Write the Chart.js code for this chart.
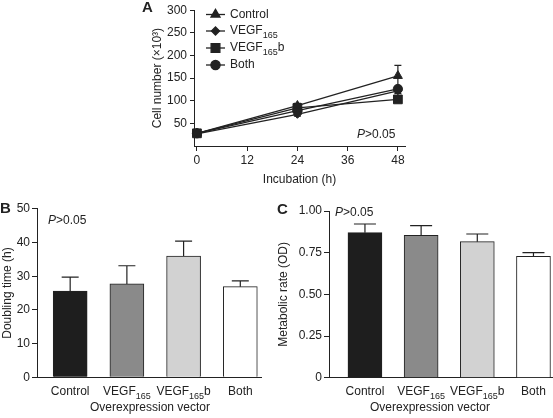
<!DOCTYPE html>
<html>
<head>
<meta charset="utf-8">
<script src="https://cdn.jsdelivr.net/npm/chart.js@4.4.0/dist/chart.umd.min.js"></script>
<style>
  html, body { margin: 0; padding: 0; background: #fff; }
  body { width: 553px; height: 418px; position: relative; overflow: hidden; }
  canvas { position: absolute; }
</style>
</head>
<body>
<canvas id="chartA" width="290" height="200" style="left:130px;top:0px"></canvas>
<canvas id="chartB" width="275" height="223" style="left:0px;top:195px"></canvas>
<canvas id="chartC" width="278" height="223" style="left:275px;top:195px"></canvas>
<script>
const FONT = '"Liberation Sans", Arial, Helvetica, sans-serif';
const INK = '#222';

// Panel A - growth curves
const hours = [0, 24, 48];
const hourTicks = [0, 12, 24, 36, 48];
const cellTicks = [50, 100, 150, 200, 250, 300];
const lineNames = ['Control', 'VEGF165', 'VEGF165b', 'Both'];
const controlCells = [28, 89, 155];
const controlErr = [1, 5, 23];
const vegfCells = [27, 70, 122];
const vegfErr = [1, 4, 6];
const vegfbCells = [28, 84, 103];
const vegfbErr = [1, 5, 5];
const bothCells = [28, 78, 126];
const bothErr = [1, 5, 6];

// Panels B and C - bars
const vectors = ['Control', 'VEGF165', 'VEGF165b', 'Both'];
const doublingTime = [25.6, 27.7, 36.0, 26.9];
const doublingErr = [4.1, 5.4, 4.4, 1.7];
const doublingTicks = [0, 10, 20, 30, 40, 50];
const metabolicRate = [0.87, 0.854, 0.816, 0.728];
const metabolicErr = [0.052, 0.058, 0.046, 0.022];
const metabolicTicks = [0, 0.25, 0.5, 0.75, 1.0];

const barFills = ['#1e1e1e', '#8a8a8a', '#d2d2d2', '#ffffff'];

Chart.defaults.font.family = FONT;
Chart.defaults.color = INK;

// split "VEGF165b" into normal / subscript pieces
function labelParts(label) {
  const m = /^VEGF(\d+)(.*)$/.exec(label);
  return m ? [['VEGF', ''], [m[1], 'sub'], [m[2], '']] : [[label, '']];
}

function richText(ctx, segs, x, y, size, align) {
  const fontFor = k => (k === 'b' ? 'bold ' : '') + (k === 'i' ? 'italic ' : '') +
    (k === 'sub' ? Math.round(size * 0.75) : size) + 'px ' + FONT;
  let w = 0;
  segs.forEach(([t, k]) => { ctx.font = fontFor(k); w += ctx.measureText(t).width; });
  let cx = align === 'center' ? x - w / 2 : align === 'right' ? x - w : x;
  ctx.save();
  ctx.fillStyle = INK;
  ctx.textAlign = 'left';
  ctx.textBaseline = 'middle';
  segs.forEach(([t, k]) => {
    ctx.font = fontFor(k);
    ctx.fillText(t, cx, y + (k === 'sub' ? size * 0.35 : 0));
    cx += ctx.measureText(t).width;
  });
  ctx.restore();
}

function errBar(ctx, x, y1, y2, cap) {
  ctx.beginPath();
  ctx.moveTo(x, y1); ctx.lineTo(x, y2);
  ctx.moveTo(x - cap / 2, y2); ctx.lineTo(x + cap / 2, y2);
  ctx.stroke();
}

// ---------- Panel A ----------
const cellSeries = [controlCells, vegfCells, vegfbCells, bothCells];
const cellErrs = [controlErr, vegfErr, vegfbErr, bothErr];
const markers = [['triangle', 5.2], ['rectRot', 4], ['rect', 6.2], ['circle', 4.6]];

const panelA = {
  id: 'panelA',
  beforeDatasetsDraw(chart) {
    const ctx = chart.ctx, xs = chart.scales.x, ys = chart.scales.y;
    ctx.save();
    ctx.strokeStyle = INK;
    ctx.lineWidth = 1.2;
    cellSeries.forEach((s, i) => {
      s.forEach((v, j) => {
        const e = cellErrs[i][j];
        const x = xs.getPixelForValue(hours[j]);
        errBar(ctx, x, ys.getPixelForValue(v), ys.getPixelForValue(v + e), 7);
        errBar(ctx, x, ys.getPixelForValue(v), ys.getPixelForValue(v - e), 7);
      });
    });
    ctx.restore();
  },
  afterDraw(chart) {
    const ctx = chart.ctx;
    richText(ctx, [['A', 'b']], 12, 8, 15, 'left');
    // legend
    const rows = [14.5, 31, 48, 65];
    lineNames.forEach((name, i) => {
      ctx.save();
      ctx.strokeStyle = INK;
      ctx.fillStyle = INK;
      ctx.lineWidth = 1.3;
      ctx.beginPath();
      ctx.moveTo(76, rows[i]); ctx.lineTo(95, rows[i]);
      ctx.stroke();
      Chart.helpers.drawPoint(ctx, {pointStyle: markers[i][0], radius: markers[i][1], borderWidth: 1}, 85.5, rows[i]);
      ctx.restore();
      richText(ctx, labelParts(name), 100, rows[i], 12, 'left');
    });
    richText(ctx, [['P', 'i'], ['>0.05', '']], 227, 135, 12, 'left');
  }
};

new Chart(document.getElementById('chartA'), {
  type: 'line',
  data: {
    datasets: lineNames.map((name, i) => ({
      label: name,
      data: hours.map((h, j) => ({x: h, y: cellSeries[i][j]})),
      borderColor: INK,
      backgroundColor: INK,
      borderWidth: 1.3,
      tension: 0,
      pointStyle: markers[i][0],
      pointRadius: markers[i][1],
      pointBorderWidth: 1,
      clip: false
    }))
  },
  options: {
    responsive: false,
    animation: false,
    events: [],
    layout: {autoPadding: false, padding: {left: 0, top: 8, right: 15, bottom: 0}},
    plugins: {legend: {display: false}, tooltip: {enabled: false}},
    scales: {
      x: {
        type: 'linear', min: -0.7, max: 49.7,
        afterBuildTicks: s => { s.ticks = hourTicks.map(v => ({value: v})); },
        afterFit: s => { s.height = 54; },
        grid: {drawOnChartArea: false, tickLength: 5, color: INK},
        border: {color: INK, width: 1},
        ticks: {font: {size: 12}, padding: 2, maxRotation: 0, autoSkip: false},
        title: {display: true, text: 'Incubation (h)', font: {size: 12}, padding: {top: 0, bottom: 13}}
      },
      y: {
        type: 'linear', min: 0, max: 300,
        afterBuildTicks: s => { s.ticks = cellTicks.map(v => ({value: v})); },
        afterFit: s => { s.width = 64; },
        grid: {drawOnChartArea: false, tickLength: 4, color: INK},
        border: {color: INK, width: 1},
        ticks: {font: {size: 12}, padding: 3},
        title: {display: true, text: 'Cell number (×10³)', font: {size: 12}, padding: {top: 20, bottom: 0}}
      }
    }
  },
  plugins: [panelA]
});

// ---------- Panels B and C ----------
function makeBarChart(id, vals, errs, yTicks, yMax, yTitle, fmt, g) {
  const extras = {
    id: 'extras' + id,
    afterDatasetsDraw(chart) {
      const ctx = chart.ctx, xs = chart.scales.x, ys = chart.scales.y;
      ctx.save();
      ctx.strokeStyle = INK;
      ctx.lineWidth = 1.2;
      vals.forEach((v, i) => {
        errBar(ctx, xs.getPixelForValue(i), ys.getPixelForValue(v), ys.getPixelForValue(v + errs[i]), g.cap);
      });
      ctx.restore();
    },
    afterDraw(chart) {
      const ctx = chart.ctx, xs = chart.scales.x;
      vectors.forEach((c, i) => richText(ctx, labelParts(c), xs.getPixelForValue(i), g.labelY, 12, 'center'));
      richText(ctx, [['Overexpression vector', '']], g.titleX, g.titleY, 12, 'center');
      richText(ctx, [[g.letter, 'b']], g.letterX, g.letterY, 15, 'left');
      richText(ctx, [['P', 'i'], ['>0.05', '']], g.pX, g.pY, 12, 'left');
    }
  };
  return new Chart(document.getElementById(id), {
    type: 'bar',
    data: {
      datasets: [{
        data: vectors.map((c, i) => ({x: i, y: vals[i]})),
        backgroundColor: barFills,
        borderColor: INK,
        borderWidth: 1,
        barThickness: 34
      }]
    },
    options: {
      responsive: false,
      animation: false,
      events: [],
      layout: {autoPadding: false, padding: {left: 0, top: g.top, right: g.right, bottom: 0}},
      plugins: {legend: {display: false}, tooltip: {enabled: false}},
      scales: {
        x: {
          type: 'linear', min: g.xMin, max: g.xMax, offset: false,
          afterBuildTicks: s => { s.ticks = vectors.map((c, i) => ({value: i})); },
          afterFit: s => { s.height = g.xHeight; },
          grid: {display: false, offset: false},
          border: {color: INK, width: 1},
          ticks: {display: false}
        },
        y: {
          type: 'linear', min: 0, max: yMax,
          afterBuildTicks: s => { s.ticks = yTicks.map(v => ({value: v})); },
          afterFit: s => { s.width = g.yWidth; },
          grid: {drawOnChartArea: false, tickLength: 5, color: INK},
          border: {color: INK, width: 1},
          ticks: {font: {size: 12}, padding: 2, callback: fmt},
          title: {display: true, text: yTitle, font: {size: 12}, padding: {top: g.yTitlePad, bottom: 0}}
        }
      }
    },
    plugins: [extras]
  });
}

makeBarChart('chartB', doublingTime, doublingErr, doublingTicks, 50, 'Doubling time (h)',
  v => String(v),
  {top: 13.8, right: 14, xHeight: 40.7, yWidth: 37, xMin: -0.585, xMax: 3.365, cap: 17, yTitlePad: 0,
   labelY: 197, titleX: 150, titleY: 213, letter: 'B', letterX: 0, letterY: 13.5, pX: 48, pY: 25.5});

makeBarChart('chartC', metabolicRate, metabolicErr, metabolicTicks, 1.0, 'Metabolic rate (OD)',
  v => v === 0 ? '0' : v.toFixed(2),
  {top: 16, right: 1, xHeight: 40.3, yWidth: 54, xMin: -0.64, xMax: 3.33, cap: 22, yTitlePad: 1,
   labelY: 197, titleX: 155, titleY: 213, letter: 'C', letterX: 2, letterY: 15, pX: 60, pY: 18});
</script>
</body>
</html>
